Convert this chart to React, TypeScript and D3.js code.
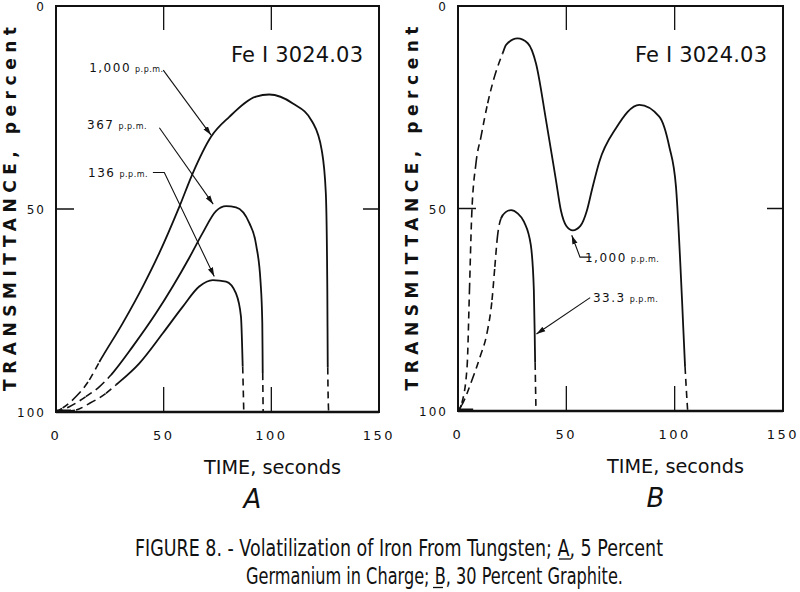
import React from 'react';
import * as d3 from 'd3';

type Pt = [number, number]; // [time s, transmittance %]

// ---- Panel A: 5 percent germanium in charge ----
const a1000Lead: Pt[] = [[0, 100], [3.1, 99], [9.3, 96.2], [15.5, 92.1], [20.1, 87.7]];
const a1000Body: Pt[] = [[20.1, 87.7], [31, 78.1], [40.3, 69.1], [48, 60.8], [57.3, 49.4], [63.5, 41.2], [72, 32.2], [80.5, 27.3], [92.9, 22.3], [99, 21.8], [110, 24], [119, 28.5], [123.4, 35.5], [125.3, 46], [126, 70], [126.2, 89]];
const a1000Tail: Pt[] = [[126.2, 89], [126.6, 100]];

const a367Lead: Pt[] = [[0, 100], [6.2, 98.7], [13.9, 96.2], [20.1, 93.8], [25.5, 90.9]];
const a367Body: Pt[] = [[25.5, 90.9], [35.6, 83.9], [46.4, 75.7], [54.2, 69.1], [61.9, 62], [68, 56], [74.3, 50.5], [79, 49.3], [83.6, 49.6], [89.8, 53.5], [93, 59], [95, 68], [95.8, 78], [96, 90.4]];
const a367Tail: Pt[] = [[96, 90.4], [96.2, 100]];

const a136Lead: Pt[] = [[0, 100], [9.3, 99.5], [15.5, 97.9], [23.2, 95.4], [27.9, 93.3]];
const a136Body: Pt[] = [[27.9, 93.3], [38.7, 88], [49.6, 80.6], [58.8, 74.1], [66.5, 69.1], [72.8, 67.5], [79, 67.9], [83.6, 70.8], [85.9, 76.5], [86.7, 88.8]];
const a136Tail: Pt[] = [[86.7, 88.8], [87.2, 100]];

// ---- Panel B: 30 percent graphite ----
const b1000Lead: Pt[] = [[0, 100], [1.8, 98], [4.2, 89], [5.3, 70], [6.3, 52], [8.3, 38.8], [10.6, 32.3], [13.7, 24], [16.8, 17.5], [20.6, 11.7]];
const b1000Body: Pt[] = [[20.6, 11.7], [22.2, 9.6], [27.5, 8], [32.2, 9.2], [36, 14.2], [40.6, 28.1], [45.2, 43], [47.5, 50.5], [50, 54.3], [53, 55.4], [56.5, 54.3], [59.5, 50.5], [62, 45], [65.2, 38.5], [72.9, 30.2], [83.7, 24.4], [92.9, 27.3], [97.5, 34.7], [100.6, 44.6], [103.4, 72.6], [104.8, 89.1]];
const b1000Tail: Pt[] = [[104.8, 89.1], [106, 100]];

const b33Lead: Pt[] = [[0, 100], [1.8, 98.5], [6.5, 92.3], [10.2, 86.6], [13.4, 80.7], [15.7, 72.6], [17, 64.4], [18.2, 57], [19.8, 52.5]];
const b33Body: Pt[] = [[19.8, 52.5], [22, 50.9], [24.5, 50.4], [27.5, 51.2], [30.5, 53.3], [33.6, 59], [35, 70], [35.4, 81], [35.6, 88.1]];
const b33Tail: Pt[] = [[35.6, 88.1], [36, 100]];

const xTickValues = [0, 50, 100, 150];
const yTickValues = [0, 50, 100];
const innerXTicks = [50, 100];
const innerYTicks = [50];

type Curve = { lead: Pt[]; body: Pt[]; tail: Pt[] };
type Note = { big: string; small: string; at: Pt; leader: Pt[] };

const curvesA: Curve[] = [
  { lead: a1000Lead, body: a1000Body, tail: a1000Tail },
  { lead: a367Lead, body: a367Body, tail: a367Tail },
  { lead: a136Lead, body: a136Body, tail: a136Tail },
];
const curvesB: Curve[] = [
  { lead: b1000Lead, body: b1000Body, tail: b1000Tail },
  { lead: b33Lead, body: b33Body, tail: b33Tail },
];

const notesA: Note[] = [
  { big: '1,000', small: 'p.p.m.', at: [15.4, 16.3], leader: [[49.8, 15.8], [72, 31.8]] },
  { big: '367', small: 'p.p.m.', at: [14.4, 30.3], leader: [[48, 30], [73, 48.8]] },
  { big: '136', small: 'p.p.m.', at: [14.9, 42.1], leader: [[45, 41], [50.3, 41], [73.5, 66.6]] },
];
const notesB: Note[] = [
  { big: '1,000', small: 'p.p.m.', at: [58.6, 63.2], leader: [[61.5, 62], [56.3, 62], [52.5, 56.6]] },
  { big: '33.3', small: 'p.p.m.', at: [62.3, 73.1], leader: [[61, 72], [36.2, 81]] },
];

const FONT = "'DejaVu Sans', sans-serif";
const INK = '#111';
const CAPTION_SQUEEZE = 0.72;

// One smooth curve through lead+body+tail, cut back into three path strings
// so the dashed and solid parts join without kinks.
function splitCurve(c: Curve, x: d3.ScaleLinear<number, number>, y: d3.ScaleLinear<number, number>): string[] {
  const pts = [...c.lead, ...c.body.slice(1), ...c.tail.slice(1)];
  const segs: string[] = [];
  let cur: [number, number] = [0, 0];
  const ctx = {
    moveTo(a: number, b: number) { cur = [a, b]; },
    lineTo(a: number, b: number) { segs.push(`M${cur[0]},${cur[1]}L${a},${b}`); cur = [a, b]; },
    bezierCurveTo(a: number, b: number, c2: number, d: number, e: number, f: number) {
      segs.push(`M${cur[0]},${cur[1]}C${a},${b},${c2},${d},${e},${f}`);
      cur = [e, f];
    },
    closePath() {},
  };
  d3.line<Pt>().x(d => x(d[0])).y(d => y(d[1])).curve(d3.curveMonotoneX).context(ctx as any)(pts);
  const nLead = c.lead.length - 1;
  const nBody = c.body.length - 1;
  return [
    segs.slice(0, nLead).join(''),
    segs.slice(nLead, nLead + nBody).join(''),
    segs.slice(nLead + nBody).join(''),
  ];
}

type PanelProps = {
  x: d3.ScaleLinear<number, number>;
  y: d3.ScaleLinear<number, number>;
  curves: Curve[];
  notes: Note[];
  letter: string;
  id: string;
};

const Panel: React.FC<PanelProps> = ({ x, y, curves, notes, letter, id }) => {
  const straight = d3.line<Pt>().x(d => x(d[0])).y(d => y(d[1]));
  const [x0, x1] = x.range();
  const [y0, y1] = y.range();
  const cx = (x0 + x1) / 2;

  return (
    <g>
      {/* frame */}
      <rect x={x0} y={y0} width={x1 - x0} height={y1 - y0} fill="none" stroke={INK} strokeWidth={2} />
      <line x1={x0} x2={x1} y1={y1} y2={y1} stroke={INK} strokeWidth={2.6} />
      <line x1={x0} x2={x(7)} y1={y1 - 1} y2={y1 - 1} stroke={INK} strokeWidth={3} />
      {innerXTicks.map(t => (
        <g key={'xt' + t}>
          <line x1={x(t)} x2={x(t)} y1={y0} y2={y0 + 24} stroke={INK} strokeWidth={1.3} />
          <line x1={x(t)} x2={x(t)} y1={y1} y2={y1 - 25} stroke={INK} strokeWidth={1.3} />
        </g>
      ))}
      {innerYTicks.map(v => (
        <g key={'yt' + v}>
          <line x1={x0} x2={x0 + 18} y1={y(v)} y2={y(v)} stroke={INK} strokeWidth={1.5} />
          <line x1={x1} x2={x1 - 16} y1={y(v)} y2={y(v)} stroke={INK} strokeWidth={1.5} />
        </g>
      ))}
      {xTickValues.map(t => (
        <text key={'xl' + t} x={x(t)} y={y1 + 28} textAnchor="middle" fontFamily={FONT} fontSize={13} letterSpacing={2.5} fill={INK}>{t}</text>
      ))}
      {yTickValues.map(v => (
        <text key={'yl' + v} x={x0 - 10} y={y(v) + 5} textAnchor="end" fontFamily={FONT} fontSize={12} letterSpacing={2} fill={INK}>{v}</text>
      ))}

      {/* curves */}
      {curves.map((c, i) => {
        const [lead, body, tail] = splitCurve(c, x, y);
        return (
          <g key={'c' + i} fill="none" stroke={INK}>
            <path d={lead} strokeWidth={1.6} strokeDasharray="7,5" />
            <path d={body} strokeWidth={1.8} />
            <path d={tail} strokeWidth={1.6} strokeDasharray="7,5" />
          </g>
        );
      })}

      {/* labels with leaders */}
      {notes.map((n, i) => (
        <g key={'n' + i}>
          <text x={x(n.at[0])} y={y(n.at[1])} fontFamily={FONT} fill={INK}>
            <tspan fontSize={12} letterSpacing={1.5}>{n.big}</tspan>
            <tspan fontSize={8} dx={4} letterSpacing={0.5}>{n.small}</tspan>
          </text>
          <path d={straight(n.leader) ?? ''} fill="none" stroke={INK} strokeWidth={1.1} markerEnd={`url(#arrow${id})`} />
        </g>
      ))}

      <text x={x1 - 16} y={y0 + 56} textAnchor="end" fontFamily={FONT} fontSize={21} textLength={132} lengthAdjust="spacing" fill={INK}>Fe I 3024.03</text>

      <text transform={`translate(${x0 - 40},${(y0 + y1) / 2}) rotate(-90)`} textAnchor="middle" fontFamily={FONT} fontSize={17} fontWeight="bold" textLength={364} lengthAdjust="spacing" fill={INK}>TRANSMITTANCE, percent</text>

      <text x={cx + 55} y={y1 + 62} textAnchor="middle" fontFamily={FONT} fontSize={20} textLength={137} lengthAdjust="spacingAndGlyphs" fill={INK}>TIME, seconds</text>
      <text x={cx + 35} y={y1 + 96} textAnchor="middle" fontFamily={FONT} fontSize={26} fontStyle="italic" fill={INK}>{letter}</text>
    </g>
  );
};

const App: React.FC = () => {
  const xA = d3.scaleLinear().domain([0, 150]).range([56, 379]);
  const yA = d3.scaleLinear().domain([0, 100]).range([6, 412]);
  const xB = d3.scaleLinear().domain([0, 150]).range([458, 783]);
  const yB = d3.scaleLinear().domain([0, 100]).range([6, 411]);

  return (
    <svg width={800} height={592} style={{ position: 'absolute', left: 0, top: 0, background: '#fff' }}>
      <defs>
        {['A', 'B'].map(k => (
          <marker key={k} id={`arrow${k}`} viewBox="0 0 10 6" refX={10} refY={3} markerWidth={9} markerHeight={6} markerUnits="userSpaceOnUse" orient="auto">
            <path d="M0,0 L10,3 L0,6 z" fill={INK} />
          </marker>
        ))}
      </defs>
      <Panel x={xA} y={yA} curves={curvesA} notes={notesA} letter="A" id="A" />
      <Panel x={xB} y={yB} curves={curvesB} notes={notesB} letter="B" id="B" />

      <text transform={`translate(135,556) scale(${CAPTION_SQUEEZE},1)`} fontFamily={FONT} fontSize={23} textLength={528 / CAPTION_SQUEEZE} lengthAdjust="spacingAndGlyphs" fill={INK}>
        FIGURE 8. - Volatilization of Iron From Tungsten; A, 5 Percent
      </text>
      <line x1={559} x2={571} y1={559} y2={559} stroke={INK} strokeWidth={1.3} />
      <text transform={`translate(246,584) scale(${CAPTION_SQUEEZE},1)`} fontFamily={FONT} fontSize={23} textLength={377 / CAPTION_SQUEEZE} lengthAdjust="spacingAndGlyphs" fill={INK}>
        Germanium in Charge; B, 30 Percent Graphite.
      </text>
      <line x1={433} x2={443} y1={587.5} y2={587.5} stroke={INK} strokeWidth={1.3} />
    </svg>
  );
};

export default App;
